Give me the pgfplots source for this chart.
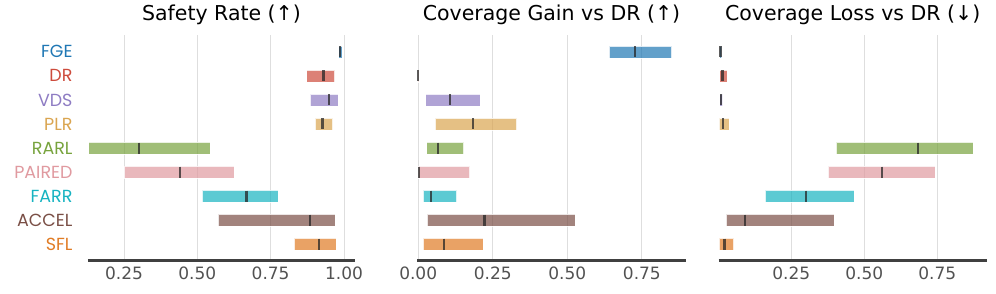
\documentclass[border=0pt]{standalone}
\usepackage{pgfplots}
\pgfplotsset{compat=1.18}
\usepackage{fontspec}
\setmainfont{DejaVu Sans}
\newfontfamily\pop{Poppins}
\definecolor{cFGE}{HTML}{1F77B4}
\definecolor{cDR}{HTML}{CD4B3C}
\definecolor{cVDS}{HTML}{8E7CC3}
\definecolor{cPLR}{HTML}{DAA550}
\definecolor{cRARL}{HTML}{77A33D}
\definecolor{cPAIRED}{HTML}{E09AA0}
\definecolor{cFARR}{HTML}{17B3C1}
\definecolor{cACCEL}{HTML}{7A4F46}
\definecolor{cSFL}{HTML}{E07B24}
% range bar: lo, hi, ylo, yhi, colour
\newcommand{\rng}[5]{\addplot[draw=white, line width=0.6pt, fill=#5, fill opacity=0.7, draw opacity=0.8] coordinates {(#1,#3) (#2,#3) (#2,#4) (#1,#4)} -- cycle;}
\pgfplotsset{
  myax/.style={
    scale only axis, height=226pt, anchor=south west,
    ymin=-0.7, ymax=8.7,
    axis x line*=bottom, axis y line*=left,
    y axis line style={draw=none},
    x axis line style={-, line width=3pt, draw=black!75},
    xmajorgrids, grid style={black!13, line width=0.8pt},
    major tick length=0pt,
    ytick={0,...,8},
    /pgf/number format/assume math mode=true,
    xticklabel style={font=\fontsize{17}{17}\selectfont, text=black!68, inner sep=0pt, yshift=-6pt,
      /pgf/number format/.cd, fixed, fixed zerofill, precision=2},
    title style={font=\fontsize{20.5}{24}\selectfont, anchor=base, at={(0.5,1)}, yshift=8.5pt},
  },
  med/.style={only marks, mark=|, mark size=5.5pt, mark options={line width=2.3pt, draw=black!85, opacity=0.75}},
}
\begin{document}
\begin{tikzpicture}
\useasboundingbox (0pt,0pt) rectangle (996pt,294pt);
% Panel 1
\begin{axis}[myax, at={(88pt,33pt)}, width=267pt, xmin=0.1273, xmax=1.0376,
  xtick={0.25,0.5,0.75,1.0}, title={Safety Rate (↑)},
  yticklabels={\textcolor{cSFL}{SFL},\textcolor{cACCEL}{ACCEL},\textcolor{cFARR}{FARR},\textcolor{cPAIRED}{PAIRED},\textcolor{cRARL}{RARL},\textcolor{cPLR}{PLR},\textcolor{cVDS}{VDS},\textcolor{cDR}{DR},\textcolor{cFGE}{FGE}},
  yticklabel style={font=\pop\fontsize{17.5}{17.5}\selectfont, anchor=east, inner sep=0pt, xshift=-15.3pt}]
\rng{0.982}{0.993}{7.75}{8.25}{cFGE}
\rng{0.873}{0.968}{6.75}{7.25}{cDR}
\rng{0.885}{0.980}{5.75}{6.25}{cVDS}
\rng{0.902}{0.961}{4.75}{5.25}{cPLR}
\rng{0.130}{0.544}{3.75}{4.25}{cRARL}
\rng{0.250}{0.626}{2.75}{3.25}{cPAIRED}
\rng{0.517}{0.775}{1.75}{2.25}{cFARR}
\rng{0.570}{0.970}{0.75}{1.25}{cACCEL}
\rng{0.830}{0.974}{-0.25}{0.25}{cSFL}
\addplot[med] coordinates {(0.986,8) (0.930,7) (0.949,6) (0.927,5) (0.301,4) (0.441,3) (0.668,2) (0.884,1) (0.915,0)};
\end{axis}
% Panel 2
\begin{axis}[myax, at={(417pt,33pt)}, width=269pt, xmin=-0.004, xmax=0.898,
  xtick={0,0.25,0.5,0.75}, yticklabels={}, title={Coverage Gain vs DR (↑)}]
\rng{0.641}{0.850}{7.75}{8.25}{cFGE}
\rng{0.000}{0.003}{6.75}{7.25}{cDR}
\rng{0.025}{0.208}{5.75}{6.25}{cVDS}
\rng{0.057}{0.330}{4.75}{5.25}{cPLR}
\rng{0.028}{0.152}{3.75}{4.25}{cRARL}
\rng{0.000}{0.173}{2.75}{3.25}{cPAIRED}
\rng{0.017}{0.129}{1.75}{2.25}{cFARR}
\rng{0.029}{0.527}{0.75}{1.25}{cACCEL}
\rng{0.017}{0.218}{-0.25}{0.25}{cSFL}
\addplot[med] coordinates {(0.726,8) (0.000,7) (0.107,6) (0.184,5) (0.067,4) (0.002,3) (0.043,2) (0.222,1) (0.087,0)};
\end{axis}
% Panel 3
\begin{axis}[myax, at={(718.5pt,33pt)}, width=268.5pt, xmin=0.001, xmax=0.920,
  xtick={0.25,0.5,0.75}, yticklabels={}, title={Coverage Loss vs DR (↓)}]
\rng{0.005}{0.012}{7.75}{8.25}{cFGE}
\rng{0.005}{0.031}{6.75}{7.25}{cDR}
\rng{0.005}{0.015}{5.75}{6.25}{cVDS}
\rng{0.004}{0.037}{4.75}{5.25}{cPLR}
\rng{0.404}{0.872}{3.75}{4.25}{cRARL}
\rng{0.376}{0.742}{2.75}{3.25}{cPAIRED}
\rng{0.161}{0.466}{1.75}{2.25}{cFARR}
\rng{0.027}{0.396}{0.75}{1.25}{cACCEL}
\rng{0.004}{0.053}{-0.25}{0.25}{cSFL}
\addplot[med] coordinates {(0.008,8) (0.015,7) (0.010,6) (0.016,5) (0.685,4) (0.560,3) (0.300,2) (0.091,1) (0.021,0)};
\end{axis}
\end{tikzpicture}
\end{document}
